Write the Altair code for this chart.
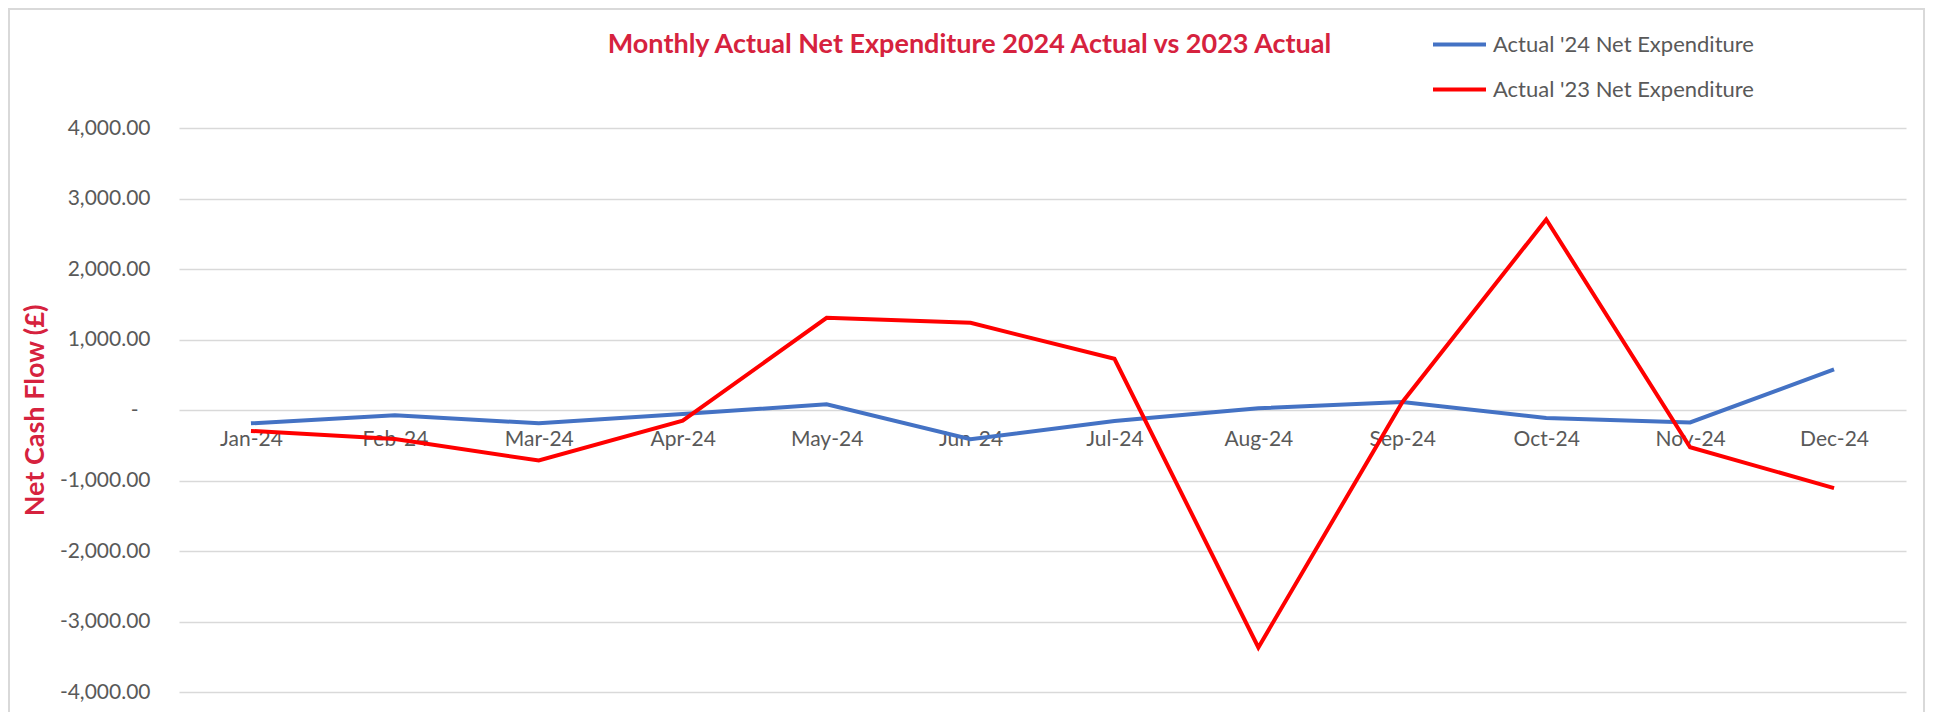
import altair as alt
import pandas as pd

months = ["Jan-24", "Feb-24", "Mar-24", "Apr-24", "May-24", "Jun-24",
          "Jul-24", "Aug-24", "Sep-24", "Oct-24", "Nov-24", "Dec-24"]
actual_24 = [-189, -75, -189, -57, 80, -415, -156, 25, 115, -112, -177, 575]
actual_23 = [-297, -410, -717, -151, 1307, 1236, 726, -3368, 110, 2703, -528, -1108]
series_names = ["Actual '24 Net Expenditure", "Actual '23 Net Expenditure"]
series_colors = ["#4472C4", "#FF0000"]
y_ticks = [-4000, -3000, -2000, -1000, 0, 1000, 2000, 3000, 4000]

rows = []
for name, vals in zip(series_names, [actual_24, actual_23]):
    for m, v in zip(months, vals):
        rows.append({"month": m, "series": name, "value": v})
df = pd.DataFrame(rows)

GREY = "#595959"
TITLE_RED = "#D6223E"
FONT = "Lato"

W, H = 1727, 564

lines = alt.Chart(df).mark_line(strokeWidth=4, strokeJoin="miter").encode(
    x=alt.X("month:N", sort=months,
            scale=alt.Scale(type="point", padding=0.5),
            axis=alt.Axis(title=None, orient="bottom", offset=-281.5,
                          domain=False, ticks=False, grid=False,
                          labelAngle=0, labelFont=FONT, labelFontSize=21,
                          labelColor=GREY, labelPadding=18)),
    y=alt.Y("value:Q",
            scale=alt.Scale(domain=[-4000, 4000], nice=False),
            axis=alt.Axis(values=y_ticks, title="Net Cash Flow (£)",
                          titleFont=FONT, titleFontSize=27, titleFontWeight="bold",
                          titleColor=TITLE_RED, titleAngle=-90,
                          titleX=-144, titleY=282, titleAlign="center",
                          titleBaseline="middle",
                          labelExpr="datum.value === 0 ? '-' : (datum.value < 0 ? '-' : '') + format(abs(datum.value), ',.2f')",
                          labelFont=FONT, labelFontSize=21, labelColor=GREY,
                          labelPadding={"condition": {"test": "datum.value === 0", "value": 41},
                                        "value": 29},
                          ticks=False, domain=False,
                          grid=True, gridColor="#D9D9D9", gridWidth=1.5)),
    color=alt.Color("series:N",
                    scale=alt.Scale(domain=series_names, range=series_colors),
                    legend=alt.Legend(title=None, orient="none",
                                      legendX=1252, legendY=-112,
                                      symbolType="stroke", symbolSize=2809,
                                      symbolStrokeWidth=4, rowPadding=5,
                                      labelOffset=5, labelFont=FONT,
                                      labelFontSize=22, labelColor=GREY,
                                      labelLimit=400)),
    order=alt.Order("series:N", sort="descending"),
)

border = alt.Chart(pd.DataFrame({"a": [0]})).mark_rect(
    filled=False, stroke="#D9D9D9", strokeWidth=2
).encode(
    x=alt.value(-170), x2=alt.value(W + 18),
    y=alt.value(-119), y2=alt.value(H + 200),
)

chart = alt.layer(border, lines).properties(
    width=W, height=H,
    background="white",
    title=alt.TitleParams(
        "Monthly Actual Net Expenditure 2024 Actual vs 2023 Actual",
        font=FONT, fontSize=27, fontWeight="bold", color=TITLE_RED,
        anchor="middle", frame="group", dx=-73, offset=0, dy=72,
        baseline="alphabetic"),
    autosize=alt.AutoSizeParams(type="none"),
    padding={"left": 171, "top": 120, "right": 20, "bottom": 20},
).configure_view(stroke=None, strokeWidth=0).configure_axis(domain=False)

chart.save("out.html", embed_options={"renderer": "svg", "actions": False})
